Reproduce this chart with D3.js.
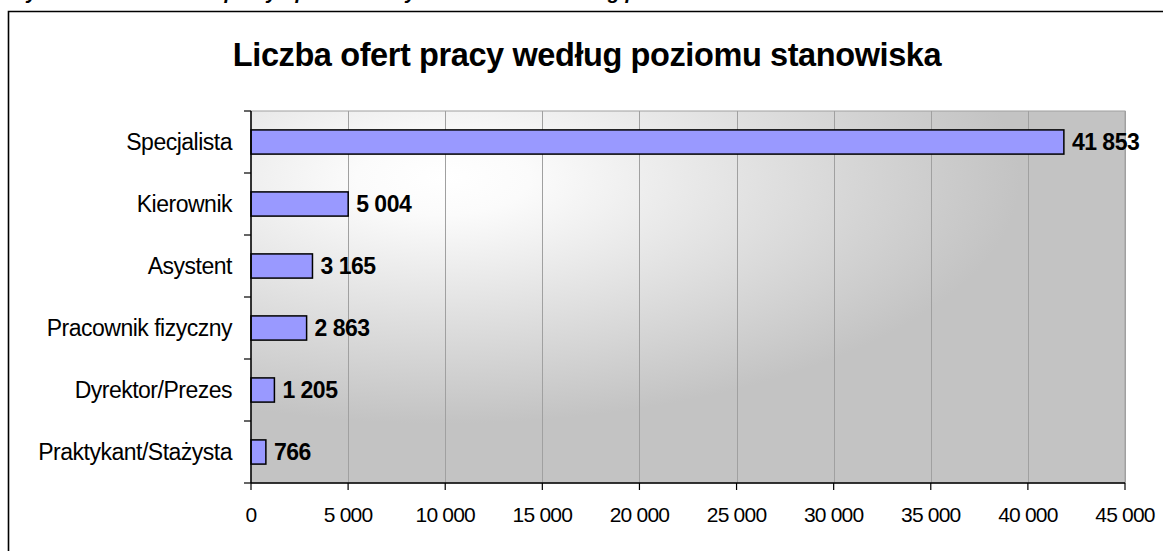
<!DOCTYPE html>
<html>
<head>
<meta charset="utf-8">
<script src="https://cdn.jsdelivr.net/npm/d3@7"></script>
<style>
  body { margin: 0; background: #fff; }
  text { font-family: "Liberation Sans", Arial, sans-serif; fill: #000; }
</style>
</head>
<body>
<div id="chart"></div>
<script>
// data
var categories = ['Specjalista', 'Kierownik', 'Asystent', 'Pracownik fizyczny', 'Dyrektor/Prezes', 'Praktykant/Stażysta'];
var values = [41853, 5004, 3165, 2863, 1205, 766];
var xTicks = [0, 5000, 10000, 15000, 20000, 25000, 30000, 35000, 40000, 45000];
var title = 'Liczba ofert pracy według poziomu stanowiska';
var caption = 'Wykres 3. Liczba ofert pracy opublikowanych w serwisie według poziomu stanowiska';

var width = 1163,
    height = 551;

var plot = {left: 251, right: 1125, top: 111, bottom: 483};

var svg = d3.select('#chart').append('svg')
    .attr('width', width)
    .attr('height', height);

// caption above the box, only its lowest part shows at the page top
svg.append('text')
    .attr('x', 8)
    .attr('y', -1.5)
    .style('font-size', '20px')
    .style('font-weight', 'bold')
    .style('font-style', 'italic')
    .text(caption);

// outer frame
svg.append('path')
    .attr('d', 'M8.5,' + height + 'V11.5H' + width)
    .attr('fill', 'none')
    .style('stroke', '#000')
    .style('stroke-width', '1.6px');

var defs = svg.append('defs');
var grad = defs.append('radialGradient')
    .attr('id', 'bg')
    .attr('cx', 0.22).attr('cy', 0.18)
    .attr('fx', 0.22).attr('fy', 0.18)
    .attr('r', 0.66);
grad.append('stop').attr('offset', '0%').attr('stop-color', '#ffffff');
grad.append('stop').attr('offset', '15%').attr('stop-color', '#fbfbfb');
grad.append('stop').attr('offset', '100%').attr('stop-color', '#c3c3c3');

var x = d3.scaleLinear()
    .domain([0, 45000])
    .range([plot.left, plot.right]);

var y = d3.scaleBand()
    .domain(categories)
    .range([plot.top, plot.bottom])
    .paddingInner(0.61)
    .paddingOuter(0.305);

var fmt = function(v) { return d3.format(',')(v).replace(/,/g, ' '); };

svg.append('rect')
    .attr('x', plot.left)
    .attr('y', plot.top)
    .attr('width', plot.right - plot.left)
    .attr('height', plot.bottom - plot.top)
    .attr('fill', 'url(#bg)')
    .style('stroke', '#a0a0a0')
    .style('stroke-width', '1px');

// vertical gridlines
svg.selectAll('.grid')
    .data(xTicks.slice(1))
    .enter().append('line')
    .attr('class', 'grid')
    .attr('x1', function(d) { return Math.round(x(d)) + 0.5; })
    .attr('x2', function(d) { return Math.round(x(d)) + 0.5; })
    .attr('y1', plot.top)
    .attr('y2', plot.bottom)
    .style('stroke', '#a0a0a0')
    .style('stroke-width', '1px');

// bars
svg.selectAll('.bar')
    .data(values)
    .enter().append('rect')
    .attr('class', 'bar')
    .attr('x', x(0))
    .attr('y', function(d, i) { return y(categories[i]); })
    .attr('width', function(d) { return x(d) - x(0); })
    .attr('height', y.bandwidth())
    .attr('fill', '#9999ff')
    .style('stroke', '#000')
    .style('stroke-width', '1.5px');

// value labels
svg.selectAll('.val')
    .data(values)
    .enter().append('text')
    .attr('class', 'val')
    .attr('x', function(d) { return x(d) + 8; })
    .attr('y', function(d, i) { return y(categories[i]) + y.bandwidth() / 2 + 8; })
    .style('font-size', '23px')
    .style('font-weight', 'bold')
    .style('letter-spacing', '-0.5px')
    .text(fmt);

// y axis
var yAxis = svg.append('g');
yAxis.append('line')
    .attr('x1', plot.left).attr('x2', plot.left)
    .attr('y1', plot.top).attr('y2', plot.bottom)
    .style('stroke', '#000').style('stroke-width', '1.5px');
var step = (plot.bottom - plot.top) / categories.length;
yAxis.selectAll('.ytick')
    .data(d3.range(categories.length + 1))
    .enter().append('line')
    .attr('x1', plot.left - 7).attr('x2', plot.left)
    .attr('y1', function(d) { return plot.top + d * step; })
    .attr('y2', function(d) { return plot.top + d * step; })
    .style('stroke', '#000').style('stroke-width', '1.2px');
yAxis.selectAll('.cat')
    .data(categories)
    .enter().append('text')
    .attr('x', 232)
    .attr('y', function(d) { return y(d) + y.bandwidth() / 2 + 8; })
    .attr('text-anchor', 'end')
    .style('font-size', '23px')
    .style('letter-spacing', '-0.5px')
    .text(function(d) { return d; });

// x axis
var xAxis = svg.append('g');
xAxis.append('line')
    .attr('x1', plot.left).attr('x2', plot.right)
    .attr('y1', plot.bottom).attr('y2', plot.bottom)
    .style('stroke', '#000').style('stroke-width', '1.5px');
xAxis.selectAll('.xtick')
    .data(xTicks)
    .enter().append('line')
    .attr('x1', function(d) { return x(d); })
    .attr('x2', function(d) { return x(d); })
    .attr('y1', plot.bottom).attr('y2', plot.bottom + 7)
    .style('stroke', '#000').style('stroke-width', '1.2px');
xAxis.selectAll('.xlab')
    .data(xTicks)
    .enter().append('text')
    .attr('x', function(d) { return x(d); })
    .attr('y', 522)
    .attr('text-anchor', 'middle')
    .style('font-size', '21px')
    .style('letter-spacing', '-0.8px')
    .text(fmt);

// title
svg.append('text')
    .attr('x', 587)
    .attr('y', 66)
    .attr('text-anchor', 'middle')
    .style('font-size', '32.5px')
    .style('font-weight', 'bold')
    .style('letter-spacing', '-0.4px')
    .text(title);
</script>
</body>
</html>
